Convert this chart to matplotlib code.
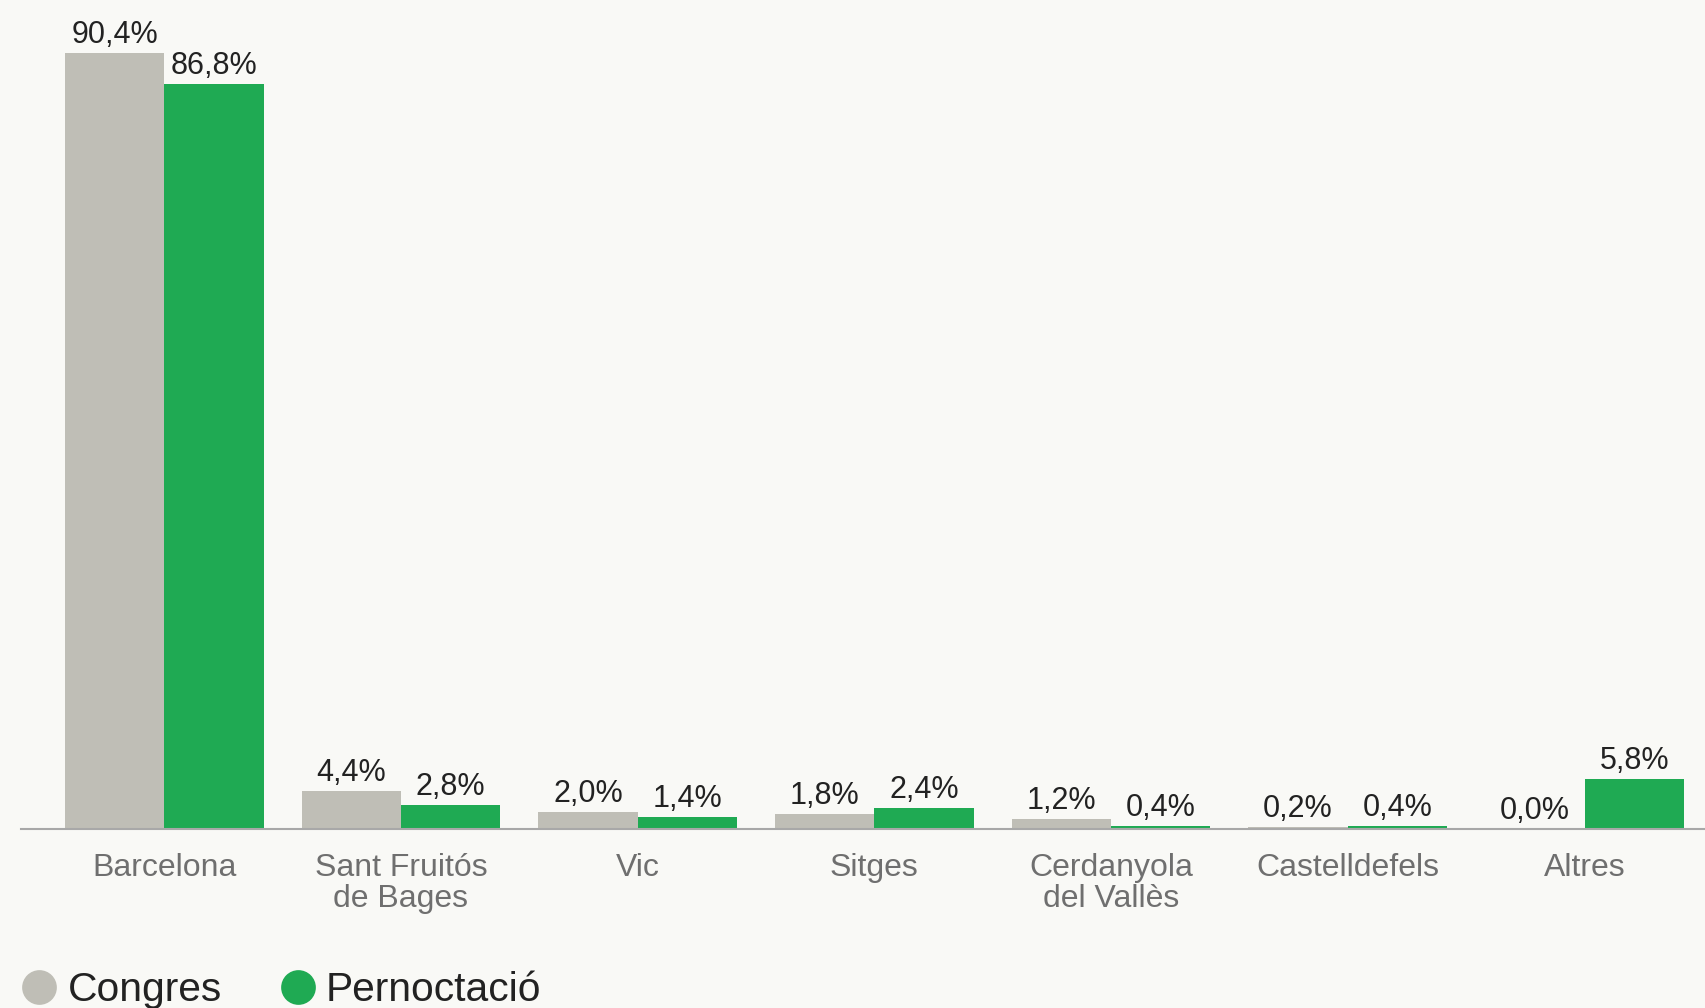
import matplotlib.pyplot as plt
import numpy as np
from matplotlib.lines import Line2D

plt.rcParams['font.family'] = ['Liberation Sans', 'DejaVu Sans']

BG = '#f9f9f6'
GREY = '#bfbeb6'
GREEN = '#1faa53'

# data
categories = ['Barcelona', 'Sant Fruitós\nde Bages', 'Vic', 'Sitges',
              'Cerdanyola\ndel Vallès', 'Castelldefels', 'Altres']
congres = [90.4, 4.4, 2.0, 1.8, 1.2, 0.2, 0.0]
pernoctacio = [86.8, 2.8, 1.4, 2.4, 0.4, 0.4, 5.8]
series_names = ['Congres', 'Pernoctació']


def fmt(v):
    return f'{v:.1f}%'.replace('.', ',')


fig = plt.figure(figsize=(17.05, 10.08), dpi=100, facecolor=BG)
ax = fig.add_axes([21 / 1705, 1 - 829 / 1008, 1 - 21 / 1705, 829 / 1008])
ax.set_facecolor(BG)

x = np.arange(len(categories))
w = 0.42
b1 = ax.bar(x - w / 2, congres, w, color=GREY, zorder=2)
b2 = ax.bar(x + w / 2, pernoctacio, w, color=GREEN, zorder=2)

# value labels just above each bar
for bars, vals in ((b1, congres), (b2, pernoctacio)):
    for rect, v in zip(bars, vals):
        ax.annotate(fmt(v), (rect.get_x() + rect.get_width() / 2, v),
                    xytext=(0, 7.2), textcoords='offset points',
                    ha='center', va='baseline', fontsize=22, color='#222222')

ax.set_xlim(-0.605, 6.509)
ax.set_ylim(0, 829 / 776 * 90.4)

ax.set_xticks(x)
ax.set_xticklabels(categories, fontsize=23, color='#6f6f6f', linespacing=1.07)
ax.tick_params(axis='x', length=0, pad=17)
ax.set_yticks([])
for s in ('top', 'right', 'left'):
    ax.spines[s].set_visible(False)
ax.spines['bottom'].set_color('#a8a8a8')
ax.spines['bottom'].set_linewidth(1.5)

handles = [Line2D([], [], marker='o', ls='', markersize=25, color=c, markeredgewidth=0)
           for c in (GREY, GREEN)]
fig.legend(handles, series_names, loc='center left', bbox_to_anchor=(22 / 1705, 0.0174),
           ncol=2, frameon=False, fontsize=29.3, handlelength=0.86, handletextpad=0.27,
           columnspacing=1.42, borderaxespad=0, borderpad=0, labelcolor='#222222')

fig.savefig('out.png', dpi=100, facecolor=BG)
